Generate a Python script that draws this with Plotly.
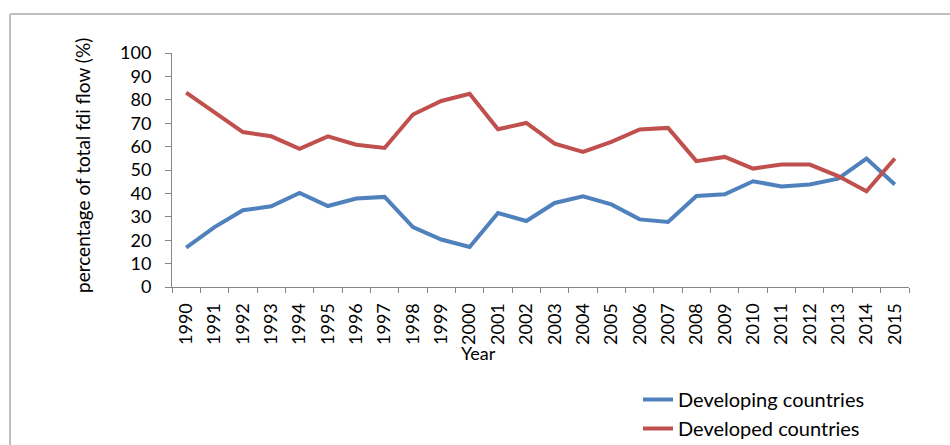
import plotly.graph_objects as go

years = [str(y) for y in range(1990, 2016)]
developing = [16.8, 25.6, 32.8, 34.5, 40.2, 34.6, 37.8, 38.5, 25.6, 20.3, 17.1, 31.6, 28.2,
              35.9, 38.8, 35.3, 28.9, 27.8, 38.9, 39.6, 45.2, 43.0, 43.8, 46.3, 54.9, 43.8]
developed = [83.1, 74.8, 66.2, 64.4, 59.1, 64.4, 60.8, 59.4, 73.7, 79.5, 82.6, 67.4, 70.1,
             61.3, 57.7, 62.0, 67.3, 68.0, 53.8, 55.6, 50.6, 52.3, 52.3, 47.4, 40.9, 54.9]

W, H = 950, 445
L, R, T, B = 172, 41, 53, 158
pw, ph = W - L - R, H - T - B

def px_x(x):
    return (x - L) / pw

def px_y(y):
    return (H - B - y) / ph

FAM = "Lato, 'Open Sans', sans-serif"
font = dict(family=FAM, size=18, color="#000000")

fig = go.Figure()
fig.add_trace(go.Scatter(x=years, y=developing, mode="lines", name="Developing countries",
                         line=dict(color="#4F81BD", width=4)))
fig.add_trace(go.Scatter(x=years, y=developed, mode="lines", name="Developed countries",
                         line=dict(color="#C0504D", width=4)))

axis_col = "#868686"
fig.update_layout(
    width=W, height=H,
    margin=dict(l=L, r=R, t=T, b=B, pad=0, autoexpand=False),
    paper_bgcolor="white", plot_bgcolor="white",
    font=font,
    showlegend=True,
    legend=dict(x=px_x(638), y=px_y(380), xanchor="left", yanchor="top",
                font=dict(family=FAM, size=20), bgcolor="rgba(0,0,0,0)", tracegroupgap=0),
    xaxis=dict(type="category", range=[-0.5, 25.5], showgrid=False, showline=True,
               linecolor=axis_col, linewidth=1, ticks="outside", tickson="boundaries",
               ticklen=5, tickcolor=axis_col, tickangle=-90, tickfont=dict(size=18),
               ticklabelstandoff=8, automargin=False),
    yaxis=dict(range=[0, 100], dtick=10, showgrid=False, showline=True, zeroline=False,
               linecolor=axis_col, linewidth=1, ticks="outside", ticklen=6, tickcolor=axis_col,
               tickfont=dict(size=18), ticklabelstandoff=10, automargin=False),
    annotations=[
        dict(text="percentage of total fdi flow (%)", xref="paper", yref="paper",
             x=px_x(82), y=px_y(166), xanchor="center", yanchor="middle", textangle=-90,
             showarrow=False, font=dict(family=FAM, size=19)),
        dict(text="Year", xref="paper", yref="paper",
             x=px_x(478), y=px_y(353), xanchor="center", yanchor="middle",
             showarrow=False, font=dict(family=FAM, size=18)),
    ],
    shapes=[
        dict(type="line", xref="paper", yref="paper", x0=px_x(10), x1=px_x(951),
             y0=px_y(14), y1=px_y(14), line=dict(color="#BFBFBF", width=2)),
        dict(type="line", xref="paper", yref="paper", x0=px_x(10), x1=px_x(10),
             y0=px_y(14), y1=px_y(446), line=dict(color="#BFBFBF", width=2)),
    ],
)

fig.write_html("out.html")
